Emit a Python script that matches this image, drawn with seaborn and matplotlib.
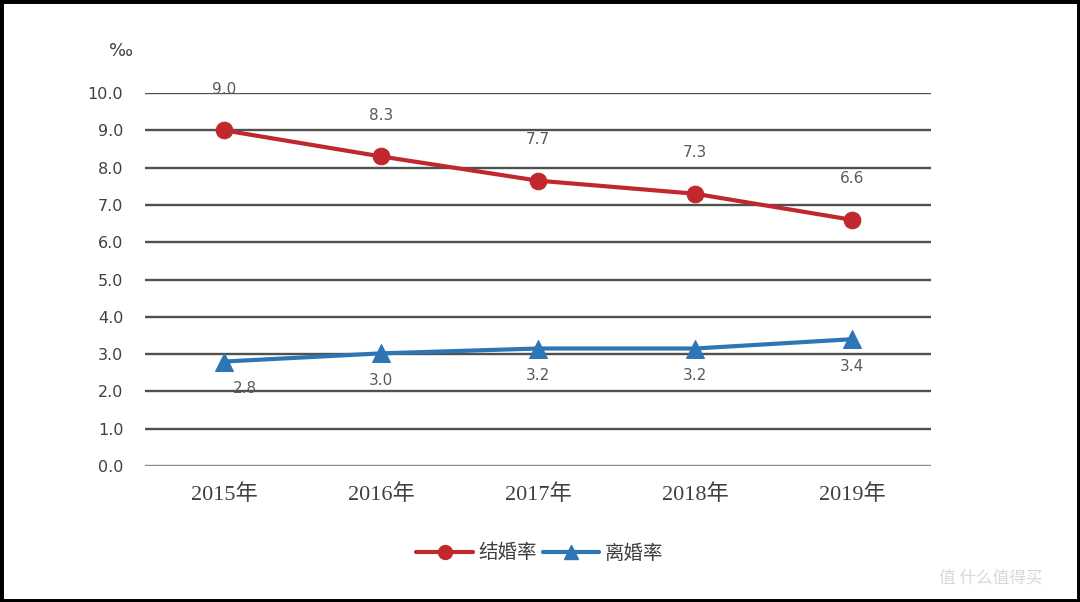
import numpy as np
import pandas as pd
import matplotlib
matplotlib.use("Agg")
import matplotlib.pyplot as plt
import seaborn as sns
from matplotlib.patches import Rectangle
from matplotlib.lines import Line2D

years = ["2015年", "2016年", "2017年", "2018年", "2019年"]
marriage = [9.0, 8.3, 7.7, 7.3, 6.6]
divorce = [2.8, 3.0, 3.2, 3.2, 3.4]
# 图上画出的实际位置（标注取一位小数）
marriage_pos = [9.0, 8.3, 7.65, 7.3, 6.6]
divorce_pos = [2.8, 3.02, 3.15, 3.15, 3.4]
yticks = np.arange(0, 11, 1)

RED = "#C0282D"
BLUE = "#2E75B6"

sns.set_theme(style="white")
plt.rcParams["font.family"] = ["DejaVu Sans", "Noto Sans CJK SC"]

fig = plt.figure(figsize=(10.8, 6.02), dpi=100)
ax = fig.add_axes([0.1347, 0.2259, 0.7269, 0.6196])

df = pd.DataFrame({"year": years, "marriage": marriage_pos, "divorce": divorce_pos})

for y in yticks:
    ax.axhline(y, color="#505050" if y > 0 else "#8a8a8a", lw=1.7, zorder=1)

sns.lineplot(data=df, x="year", y="marriage", ax=ax, color=RED, lw=3,
             marker="o", markersize=12, markeredgecolor=RED, sort=False, zorder=3)
sns.lineplot(data=df, x="year", y="divorce", ax=ax, color=BLUE, lw=3,
             marker="^", markersize=13, markeredgecolor=BLUE, sort=False, zorder=3)

for i, (v, p) in enumerate(zip(marriage, marriage_pos)):
    ax.annotate(f"{v:.1f}", (i, p), xytext=(0, 24), textcoords="offset points",
                ha="center", va="bottom", fontsize=11, color="#595959")
for i, (v, p) in enumerate(zip(divorce, divorce_pos)):
    ax.annotate(f"{v:.1f}", (i, p), xytext=(i == 0 and 15 or 0, -14),
                textcoords="offset points", ha="center", va="top",
                fontsize=11, color="#595959")

ax.set_xlim(-0.5, 4.5)
ax.set_ylim(0, 10)
ax.set_yticks(yticks)
ax.set_yticklabels([f"{t:.1f}" for t in yticks], fontsize=11.5, color="#404040")
ax.set_xticks(range(len(years)))
ax.set_xticklabels(years, fontsize=16, color="#404040",
                   family=["Liberation Serif", "Noto Sans CJK SC"])
ax.tick_params(axis="y", length=0, pad=16)
ax.tick_params(axis="x", length=0, pad=13)
ax.set_xlabel("")
ax.set_ylabel("")
for s in ax.spines.values():
    s.set_visible(False)

fig.text(0.112, 0.915, "‰", fontsize=13, color="#404040", ha="center", va="center")

handles = [
    Line2D([], [], color=RED, lw=3, marker="o", markersize=10),
    Line2D([], [], color=BLUE, lw=3, marker="^", markersize=10),
]
leg = fig.legend(handles, ["结婚率", "离婚率"], loc="center",
                 bbox_to_anchor=(0.5, 1 - 553 / 602), ncol=2, frameon=False,
                 handlelength=2.9, columnspacing=0.3, handletextpad=0.3,
                 prop={"family": ["Noto Sans CJK SC"], "size": 14})
for t in leg.get_texts():
    t.set_color("#404040")

fig.text(0.965, 1 - 578 / 602, "值 什么值得买", fontsize=12, color="#d8d8d8",
         ha="right", va="center", family=["Noto Sans CJK SC"])

fig.patches.append(Rectangle((0, 0), 1, 1, transform=fig.transFigure, fill=False,
                             edgecolor="black", lw=5, zorder=10))

fig.savefig("out.png", dpi=100)
